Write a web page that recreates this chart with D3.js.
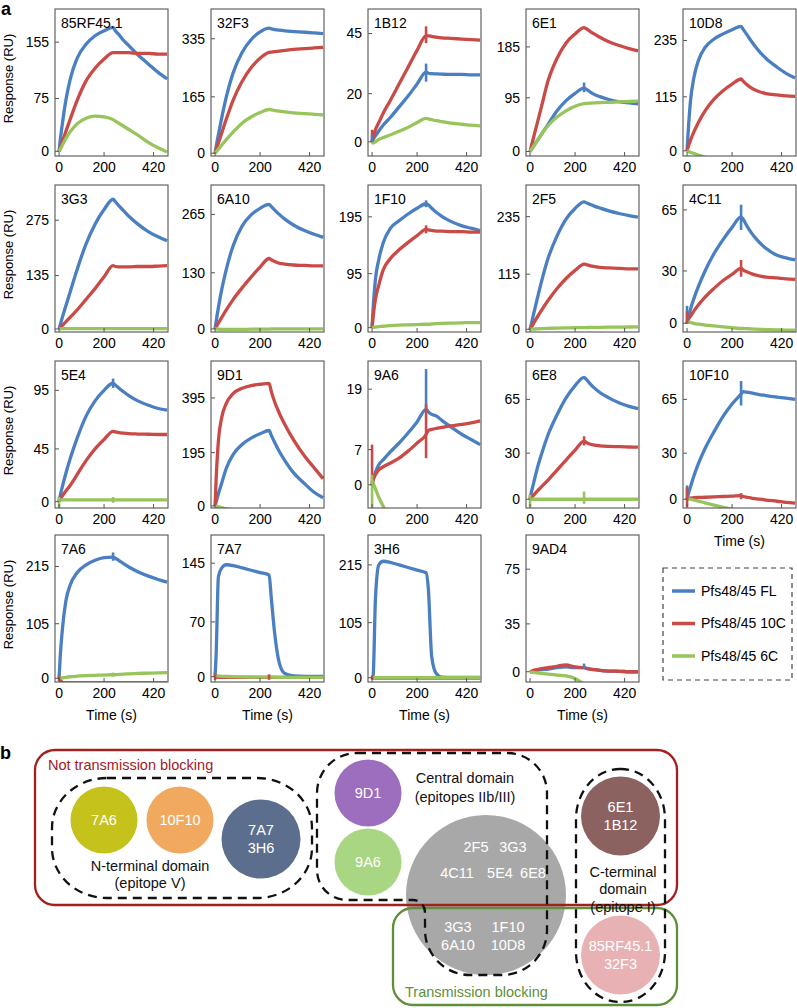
<!DOCTYPE html>
<html>
<head>
<meta charset="utf-8">
<script src="https://cdn.jsdelivr.net/npm/d3@7"></script>
<style>
  body { margin: 0; background: #fff; }
  svg text { font-family: "Liberation Sans", Arial, sans-serif; }
</style>
</head>
<body>
<svg id="fig" width="797" height="1008"></svg>
<script>
// ---- data (a): SPR sensorgrams ----
const times = [0, 5, 15, 30, 50, 80, 120, 160, 200, 240, 250, 265, 285, 310, 350, 400, 440, 480];
const panelNames = ["85RF45.1", "32F3", "1B12", "6E1", "10D8",
                    "3G3", "6A10", "1F10", "2F5", "4C11",
                    "5E4", "9D1", "9A6", "6E8", "10F10",
                    "7A6", "7A7", "3H6", "9AD4"];
const yDomains = [[-6.6, 202], [-8, 422], [-5.9, 55.2], [-7.9, 252], [-11, 302],
                  [-7.6, 364], [-7, 333], [-7.6, 251], [-5.6, 301], [-5, 79.3],
                  [-5.4, 120], [-7.4, 530], [-4.6, 24.6], [-5.7, 90], [-5.7, 90],
                  [-7.1, 275.6], [-6.8, 181], [-8.2, 272], [-7.5, 100]];
const yTicks = [[0, 75, 155], [0, 165, 335], [0, 20, 45], [0, 95, 185], [0, 115, 235],
                [0, 135, 275], [0, 130, 265], [0, 95, 195], [0, 115, 235], [0, 30, 65],
                [0, 45, 95], [0, 195, 395], [0, 7, 19], [0, 30, 65], [0, 30, 65],
                [0, 105, 215], [0, 70, 145], [0, 105, 215], [0, 35, 75]];
const xTicks = [0, 200, 420];
const seriesNames = ["Pfs48/45 FL", "Pfs48/45 10C", "Pfs48/45 6C"];

const fl = [
  [0, 15, 40, 72, 103, 132, 152, 164, 171, 176, 171, 166, 158, 150, 137, 123, 112, 103],
  [0, 20, 55, 105, 165, 235, 295, 332, 355, 366, 364, 362, 360, 358, 356, 354, 352, 350],
  [0, 1, 2.5, 4.5, 7, 10, 14.5, 19, 24, 29, 28.5, 28.3, 28.2, 28.1, 28, 28, 27.8, 27.8],
  [0, 3, 9, 18, 30, 48, 72, 90, 103, 112, 110, 106, 101, 97, 92, 88, 86, 84.5],
  [0, 40, 105, 155, 192, 220, 238, 249, 258, 265, 258, 248, 234, 218, 197, 178, 165, 155],
  [0, 10, 30, 58, 95, 150, 215, 265, 302, 328, 322, 312, 300, 285, 265, 245, 233, 223],
  [0, 18, 50, 92, 138, 192, 238, 264, 279, 288, 283, 275, 265, 254, 240, 227, 219, 212],
  [0, 35, 85, 120, 150, 174, 188, 200, 210, 218, 216, 210, 203, 196, 187, 179, 175, 171],
  [0, 10, 30, 60, 98, 148, 195, 230, 252, 266, 264, 261, 257, 253, 247, 241, 237, 234],
  [0, 3, 8, 14, 21, 30, 40, 48, 55, 61, 59.5, 56, 52, 48, 43, 39, 37.5, 36.3],
  [0, 5, 13, 24, 37, 54, 73, 86, 95, 101, 99.5, 97, 94, 90.5, 86, 82, 79.5, 78],
  [0, 15, 45, 85, 138, 188, 225, 248, 264, 276, 258, 232, 200, 166, 120, 80, 50, 30],
  [0, 1, 2.5, 4, 5, 6.5, 8.3, 10.3, 12.5, 15, 14.5, 14, 13.7, 12.8, 11.5, 10, 9, 8],
  [0, 4, 10, 19, 29, 42, 55, 66, 74, 79.4, 78, 75.5, 72.5, 69.5, 66, 62.5, 60.5, 59],
  [0, 3, 8, 15, 23, 33, 44, 54, 62, 68.5, 70, 69.7, 69.2, 68.5, 67.5, 66.5, 65.8, 65],
  [0, 40, 95, 148, 180, 203, 218, 227, 232, 233, 231, 227, 221, 214, 205, 196, 190, 185],
  [0, 30, 128, 139, 143, 142, 139, 136, 133, 130, 100, 55, 18, 4, 1, 0.5, 0.5, 0.5],
  [0, 5, 150, 215, 222, 220, 215, 210, 205, 200, 170, 40, 8, 1, 0.5, 0.5, 0.5, 0.5],
  [0, 0, 0.5, 1, 1.5, 2, 3, 3.5, 3, 3, 2.5, 2, 1.5, 1, 0.5, 0.3, 0, 0]
];
const c10 = [
  [0, 5, 14, 28, 46, 72, 100, 118, 131, 140, 140, 140, 140, 140, 139, 139, 138, 138],
  [0, 10, 30, 60, 100, 155, 210, 250, 278, 295, 296, 297, 299, 301, 304, 306, 308, 310],
  [0, 2, 5, 8, 12, 17, 24, 31, 38, 44, 44, 43.8, 43.5, 43.2, 43, 42.7, 42.5, 42.3],
  [0, 8, 24, 47, 78, 125, 165, 192, 208, 219, 217, 213, 208, 202, 194, 187, 182, 178],
  [0, 8, 22, 40, 60, 85, 110, 128, 142, 153, 148, 141, 134, 128, 122, 119, 117, 116],
  [0, 3, 9, 18, 30, 48, 75, 102, 132, 160, 158, 157, 157, 157, 158, 158, 159, 160],
  [0, 5, 14, 27, 44, 68, 95, 120, 143, 163, 160, 156, 152, 150, 148, 147, 146, 146],
  [0, 20, 50, 75, 102, 121, 137, 150, 162, 173, 172, 171, 170, 170, 169, 169, 168, 168],
  [0, 4, 12, 24, 39, 60, 85, 106, 123, 136, 135, 133, 131, 129, 128, 127, 126, 126],
  [0, 2, 4, 7, 10.5, 15, 20, 24.5, 28, 31.5, 30.5, 29.5, 28.5, 27.5, 26.5, 26, 25.5, 25.2],
  [0, 2, 5, 9, 14, 23, 35, 45, 53, 60, 59.5, 59, 58.5, 58, 57.7, 57.5, 57.3, 57.3],
  [0, 100, 240, 325, 375, 411, 430, 440, 445, 448, 418, 380, 340, 298, 240, 180, 140, 100],
  [0, 1, 2, 3, 3.6, 4.3, 5.3, 6.7, 8.3, 10, 10.8, 11, 11.2, 11.4, 11.7, 12, 12.3, 12.7],
  [0, 1, 2.5, 5, 8, 12.5, 19, 25.5, 32, 37.8, 37, 36, 35.3, 34.8, 34.4, 34.2, 34, 33.9],
  [0, 0.5, 0.8, 1, 1.2, 1.3, 1.5, 1.8, 2, 2.3, 1.8, 1.3, 0.8, 0.3, -0.5, -1.3, -2, -2.5],
  [0, -3, -8, -9, -9, -9, -9, -9, -9, -9, -9, -9, -9, -9, -9, -9, -9, -9],
  [0, -0.5, -0.8, -1, -1, -1, -1, -1, -1, -1, -1, -1, -1, -1, -1, -1, -1, -1],
  [0, -0.5, -0.8, -1, -1, -1, -1, -1, -1, -1, -1, -1, -1, -1, -1, -1, -1, -1],
  [0, 0.3, 1, 1.5, 2.2, 3, 4, 5, 3.5, 3, 2.5, 2, 1.5, 1, 0.5, 0.3, 0, 0]
];
const c6 = [
  [0, 3, 9, 18, 28, 39, 47, 50, 49, 45, 43, 40, 36, 31, 23, 12, 5, -1],
  [0, 4, 12, 24, 40, 62, 88, 106, 119, 128, 127, 125, 123, 121, 118, 116, 114, 112],
  [0, -0.5, 0, 1, 1.8, 2.8, 4.4, 6, 8, 9.7, 9.5, 9.2, 8.8, 8.4, 7.8, 7.3, 6.9, 6.6],
  [0, 3, 9, 18, 30, 46, 61, 72, 80, 84.6, 85, 85.5, 86, 86.5, 87, 88, 88.5, 89],
  [0, -1, -3, -5.5, -9, -14, -20, -24, -27, -30, -30, -30, -30, -30, -30, -30, -30, -30],
  [0, 0.5, 1, 1, 1, 1, 1, 1, 1, 1, 1, 1, 1, 1, 1, 1, 1, 1],
  [0, 0, -0.5, -1, -1, -1, -1, -0.5, -0.5, -0.5, 0, 0, 0, 0, 0, 0, 0, 0],
  [0, 0.5, 1, 2, 2.5, 3.5, 4.5, 5, 5.5, 6, 6, 6.5, 7, 7.5, 8, 8.5, 9, 9],
  [0, 0.2, 0.5, 1, 1.5, 2, 2.5, 3, 3.3, 3.6, 3.7, 3.8, 4, 4.2, 4.4, 4.6, 4.8, 5],
  [1, 0.8, 0.5, 0, -0.5, -1, -1.5, -2, -2.5, -3, -3, -3.1, -3.2, -3.4, -3.6, -3.8, -3.9, -4],
  [1, 1.5, 1.5, 1.5, 1.5, 1.5, 1.5, 1.5, 1.5, 1.5, 1.5, 1.5, 1.5, 1.5, 1.5, 1.5, 1.5, 1.5],
  [0, -1, -3, -6, -10, -15, -20, -25, -30, -30, -30, -30, -30, -30, -30, -30, -30, -30],
  [1, 0.3, -0.8, -2.5, -4.3, -7, -10, -10, -10, -10, -10, -10, -10, -10, -10, -10, -10, -10],
  [0, 0, 0, 0, 0, 0, 0, 0, 0, 0, 0, 0, 0, 0, 0, 0, 0, 0],
  [0.5, 0.3, 0, -0.5, -1.2, -2.3, -3.8, -5.2, -6.5, -8, -8, -8, -8, -8, -8, -8, -8, -8],
  [0, 0.5, 1, 2, 3, 4, 5, 5.8, 6.3, 6.8, 7, 7.5, 8, 8.5, 9.3, 10, 10.5, 11],
  [1.5, 1, 0.8, 0.5, 0.3, 0, -0.2, -0.4, -0.5, -0.6, -0.6, -0.7, -0.8, -0.8, -0.9, -1, -1, -1],
  [0.5, 0.3, 0.2, 0, 0, 0, 0, 0, 0, 0, 0, 0, 0, 0, 0, 0, 0, 0],
  [0, -0.2, -0.5, -0.8, -1.2, -1.8, -2.5, -3, -5, -9, -10, -10, -10, -10, -10, -10, -10, -10]
];
// injection artefacts: [panel, series, time, low, high]
const spikes = [
  [2, 1, 0, 0, 5], [2, 0, 0, 0, 3], [2, 1, 240, 41, 48], [2, 0, 240, 25, 32.5],
  [3, 0, 240, 105, 122],
  [7, 0, 240, 212, 224], [7, 1, 240, 166, 180],
  [9, 0, 0, 0, 10], [9, 1, 0, 0, 7], [9, 0, 240, 53.5, 68], [9, 1, 240, 26.7, 36.3],
  [10, 0, 0, 0, 4], [10, 0, 240, 97, 105], [10, 2, 0, -5, 4], [10, 2, 240, -1, 4],
  [12, 1, 0, 0, 8], [12, 0, 240, 15, 23], [12, 1, 240, 5.3, 16], [12, 2, 0, -5, 2],
  [13, 1, 0, 0, 3], [13, 1, 240, 35, 41], [13, 2, 0, -5, 3], [13, 2, 240, -3, 5],
  [14, 0, 0, 0, 9], [14, 1, 0, -5, 8], [14, 0, 240, 61, 77], [14, 1, 240, 0, 4],
  [15, 1, 0, -5, 4], [15, 0, 240, 226, 242], [15, 2, 240, 3, 11],
  [16, 1, 0, -4, 4], [16, 1, 240, -4, 3],
  [17, 1, 0, -4, 4],
  [18, 0, 240, 2, 6]
];

const colors = ["#4a7fc1", "#c94a46", "#98c45c"];

// ---- layout ----
const colLeft = [55, 211, 368, 526, 683];
const rowTop = [9, 185, 361, 535];
const pw = 113, ph = 147;

const svg = d3.select("#fig");

svg.append("text").attr("x", 1).attr("y", 15)
  .style("font-size", "18px").style("font-weight", "bold").text("a");

panelNames.forEach((name, i) => {
  const col = i % 5, row = Math.floor(i / 5);
  const left = colLeft[col], top = rowTop[row];

  const x = d3.scaleLinear().domain([-18, 484]).range([left, left + pw]);
  const y = d3.scaleLinear().domain(yDomains[i]).range([top + ph, top]);

  const g = svg.append("g");
  g.append("clipPath").attr("id", "clip" + i)
    .append("rect").attr("x", left).attr("y", top).attr("width", pw).attr("height", ph);

  const plot = g.append("g").attr("clip-path", `url(#clip${i})`);
  const line = d3.line()
    .x((d, k) => x(times[k]))
    .y(d => y(d))
    .curve(d3.curveMonotoneX);

  [fl[i], c10[i], c6[i]].forEach((vals, s) => {
    plot.append("path")
      .attr("d", line(vals))
      .attr("fill", "none")
      .attr("stroke", colors[s])
      .attr("stroke-width", 3.3)
      .attr("stroke-linejoin", "round");
  });

  spikes.filter(d => d[0] === i).forEach(d => {
    plot.append("line")
      .attr("x1", x(d[2])).attr("x2", x(d[2]))
      .attr("y1", y(d[3])).attr("y2", y(d[4]))
      .attr("stroke", colors[d[1]])
      .attr("stroke-width", 2.6);
  });

  // frame
  g.append("rect")
    .attr("x", left).attr("y", top).attr("width", pw).attr("height", ph)
    .attr("fill", "none").attr("stroke", "#555").attr("stroke-width", 1.1);

  // inward ticks + labels
  xTicks.forEach(t => {
    g.append("line").attr("x1", x(t)).attr("x2", x(t))
      .attr("y1", top + ph).attr("y2", top + ph - 4)
      .attr("stroke", "#555").attr("stroke-width", 1);
    g.append("text").attr("x", x(t)).attr("y", top + ph + 11).attr("dy", "0.35em")
      .attr("text-anchor", "middle").style("font-size", "14px").text(t);
  });
  yTicks[i].forEach(t => {
    g.append("line").attr("x1", left).attr("x2", left + 4)
      .attr("y1", y(t)).attr("y2", y(t))
      .attr("stroke", "#555").attr("stroke-width", 1);
    g.append("text").attr("x", left - 6).attr("y", y(t)).attr("dy", "0.35em")
      .attr("text-anchor", "end").style("font-size", "14px").text(t);
  });

  g.append("text").attr("x", left + 6).attr("y", top + 19)
    .style("font-size", "14px").text(name);

  if (col === 0) {
    g.append("text")
      .attr("transform", `translate(13, ${top + ph / 2 - 4}) rotate(-90)`)
      .attr("text-anchor", "middle").style("font-size", "13px")
      .text("Response (RU)");
  }
  if (row === 3 || (row === 2 && col === 4)) {
    g.append("text").attr("x", left + pw / 2).attr("y", top + ph + 33).attr("dy", "0.35em")
      .attr("text-anchor", "middle").style("font-size", "14px").text("Time (s)");
  }
});

// legend
const leg = svg.append("g");
leg.append("rect").attr("x", 663).attr("y", 568).attr("width", 129).attr("height", 112)
  .attr("fill", "none").attr("stroke", "#444").attr("stroke-width", 1.2)
  .attr("stroke-dasharray", "5,4");
seriesNames.forEach((s, k) => {
  const yy = 591 + k * 32.5;
  leg.append("line").attr("x1", 672).attr("x2", 695).attr("y1", yy).attr("y2", yy)
    .attr("stroke", colors[k]).attr("stroke-width", 3.5);
  leg.append("text").attr("x", 701).attr("y", yy).attr("dy", "0.35em")
    .style("font-size", "14px").text(s);
});

// ---- (b): epitope diagram ----
svg.append("text").attr("x", 0).attr("y", 759)
  .style("font-size", "18px").style("font-weight", "bold").text("b");

const groups = [
  { name: "Not transmission blocking", x0: 35, y0: 750, x1: 677, y1: 905, color: "#a3201f", tx: 48, ty: 765 },
  { name: "Transmission blocking", x0: 393, y0: 908, x1: 677, y1: 1005, color: "#5e8f3a", tx: 405, ty: 992 }
];
const nodes = [
  { labels: ["7A6"], cx: 104, cy: 820, r: 33.5, fill: "#c4c21b" },
  { labels: ["10F10"], cx: 180, cy: 820, r: 33.5, fill: "#f0a95e" },
  { labels: ["7A7", "3H6"], cx: 261, cy: 839, r: 39.5, fill: "#5c6e8e" },
  { labels: ["9D1"], cx: 368, cy: 793, r: 33.5, fill: "#9e6ebe" },
  { labels: ["9A6"], cx: 368, cy: 862, r: 33.5, fill: "#a9d683" },
  { labels: [], cx: 486, cy: 895, r: 80, fill: "#a8a8a8" },
  { labels: ["6E1", "1B12"], cx: 620.5, cy: 816, r: 39.5, fill: "#8c6260" },
  { labels: ["85RF45.1", "32F3"], cx: 620.5, cy: 955, r: 39.5, fill: "#e8b2b4" }
];
const greyLabels = [
  ["2F5", 476, 847], ["3G3", 513, 847],
  ["4C11", 457, 873], ["5E4", 500, 873], ["6E8", 533, 873],
  ["3G3", 458, 927], ["1F10", 508, 927],
  ["6A10", 458, 945], ["10D8", 508, 945]
];
const domainTexts = [
  ["N-terminal domain", 150, 866], ["(epitope V)", 150, 883],
  ["Central domain", 465, 778], ["(epitopes IIb/III)", 465, 797],
  ["C-terminal", 623, 872], ["domain", 623, 889], ["(epitope I)", 623, 907]
];

const b = svg.append("g");
const fs = "14.5px";

nodes.forEach(n => {
  b.append("circle").attr("cx", n.cx).attr("cy", n.cy).attr("r", n.r).attr("fill", n.fill);
  const h = 17.5;
  n.labels.forEach((l, k) => {
    b.append("text").attr("x", n.cx).attr("y", n.cy + (k - (n.labels.length - 1) / 2) * h)
      .attr("dy", "0.35em").attr("text-anchor", "middle")
      .style("font-size", fs).attr("fill", "#fff").text(l);
  });
});
greyLabels.forEach(d => {
  b.append("text").attr("x", d[1]).attr("y", d[2]).attr("dy", "0.35em")
    .attr("text-anchor", "middle").style("font-size", fs).attr("fill", "#fff").text(d[0]);
});

groups.slice().reverse().forEach(gr => {
  b.append("rect").attr("x", gr.x0).attr("y", gr.y0)
    .attr("width", gr.x1 - gr.x0).attr("height", gr.y1 - gr.y0)
    .attr("rx", 20).attr("fill", "none").attr("stroke", gr.color).attr("stroke-width", 2.3);
  b.append("text").attr("x", gr.tx).attr("y", gr.ty).attr("dy", "0.35em")
    .style("font-size", fs).attr("fill", gr.color).text(gr.name);
});

// dashed domain outlines
const dash = { stroke: "#111", "stroke-width": 2.3, "stroke-dasharray": "9,6", fill: "none" };
const applyDash = sel => Object.entries(dash).forEach(([k, v]) => sel.attr(k, v));

applyDash(b.append("rect").attr("x", 52).attr("y", 778).attr("width", 260).attr("height", 120)
  .attr("rx", 55).attr("ry", 50));
applyDash(b.append("rect").attr("x", 576).attr("y", 769).attr("width", 89).attr("height", 233)
  .attr("rx", 44).attr("ry", 50));

const p = d3.path();
p.moveTo(357, 753);
p.lineTo(507, 753);
p.arcTo(547, 753, 547, 793, 40);
p.lineTo(547, 930);
p.arcTo(547, 975, 502, 975, 45);
p.lineTo(470, 975);
p.arcTo(425, 975, 425, 930, 45);
p.lineTo(425, 912);
p.arcTo(425, 900, 413, 900, 12);
p.lineTo(347, 900);
p.arcTo(317, 900, 317, 870, 30);
p.lineTo(317, 793);
p.arcTo(317, 753, 357, 753, 40);
p.closePath();
applyDash(b.append("path").attr("d", p.toString()));

domainTexts.forEach(d => {
  b.append("text").attr("x", d[1]).attr("y", d[2]).attr("dy", "0.35em")
    .attr("text-anchor", "middle").style("font-size", fs).attr("fill", "#111").text(d[0]);
});
</script>
</body>
</html>
